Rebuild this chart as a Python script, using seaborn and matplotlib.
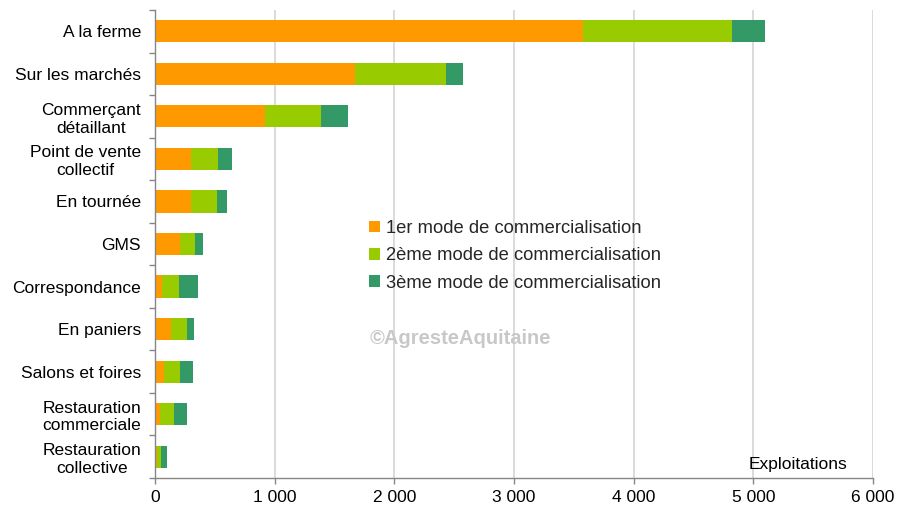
import matplotlib
matplotlib.use("Agg")
import matplotlib.pyplot as plt
from matplotlib.ticker import FuncFormatter, FixedLocator
import numpy as np
import pandas as pd
import seaborn as sns

# Sales channels (top to bottom) and number of farms per rank of channel
categories = [
    "A la ferme",
    "Sur les marchés",
    "Commerçant\ndétaillant",
    "Point de vente\ncollectif",
    "En tournée",
    "GMS",
    "Correspondance",
    "En paniers",
    "Salons et foires",
    "Restauration\ncommerciale",
    "Restauration\ncollective",
]
mode1 = [3580, 1675, 920, 305, 305, 208, 58, 136, 72, 39, 14]
mode2 = [1240, 755, 468, 223, 216, 125, 142, 131, 136, 119, 36]
mode3 = [275, 145, 224, 118, 83, 67, 158, 58, 109, 109, 50]

series_labels = [
    "1er mode de commercialisation",
    "2ème mode de commercialisation",
    "3ème mode de commercialisation",
]
series_colors = ["#FF9900", "#99CC00", "#339966"]
x_ticks = [0, 1000, 2000, 3000, 4000, 5000, 6000]

df = pd.DataFrame({"canal": categories, "m1": mode1, "m2": mode2, "m3": mode3})
df["c1"] = df["m1"]
df["c2"] = df["m1"] + df["m2"]
df["c3"] = df["m1"] + df["m2"] + df["m3"]

sns.set_theme(style="white")
plt.rcParams["font.family"] = ["Liberation Sans", "DejaVu Sans"]

fig = plt.figure(figsize=(9.10, 5.09), dpi=100)
ax = fig.add_axes([155 / 910, 1 - 478 / 509, 718 / 910, 468 / 509])

# Stacked bars: draw cumulative totals from the back to the front
for col, lab, colr in zip(["c3", "c2", "c1"], series_labels[::-1], series_colors[::-1]):
    sns.barplot(data=df, x=col, y="canal", orient="h", color=colr, width=0.52,
                saturation=1, ax=ax, label=lab, zorder=3, linewidth=0)

ax.set_xlim(0, 6000)
ax.set_ylim(len(categories) - 0.5, -0.5)
ax.set_xlabel("")
ax.set_ylabel("")

# Vertical gridlines
ax.xaxis.set_major_locator(FixedLocator(x_ticks))
ax.xaxis.set_major_formatter(FuncFormatter(lambda v, p: f"{int(v):,}".replace(",", " ")))
for xv in x_ticks[1:]:
    ax.axvline(xv, color="#D4D4D4", lw=1.2, zorder=1)

for s in ["top", "right"]:
    ax.spines[s].set_visible(False)
for s in ["left", "bottom"]:
    ax.spines[s].set_color("#868686")
    ax.spines[s].set_linewidth(1.0)
    ax.spines[s].set_zorder(4)

ax.tick_params(axis="x", direction="out", length=4, width=1, color="#868686",
               labelsize=12.5, labelcolor="black", pad=5, bottom=True)
ax.tick_params(axis="y", which="major", length=0, labelsize=12.5,
               labelcolor="black", pad=10)
ax.yaxis.set_minor_locator(FixedLocator(np.arange(-0.5, len(categories), 1.0)))
ax.tick_params(axis="y", which="minor", direction="out", length=4, width=1,
               color="#868686", left=True)
for t in ax.get_yticklabels():
    t.set_multialignment("center")
    t.set_linespacing(1.22)

# Legend in series order
h, l = ax.get_legend_handles_labels()
order = [l.index(s) for s in series_labels]
ax.legend([h[i] for i in order], [l[i] for i in order], loc="upper left",
          bbox_to_anchor=((369 - 155) / 718, (478 - 220) / 468), frameon=False,
          fontsize=13.2, handlelength=0.6, handleheight=0.6, handletextpad=0.35,
          labelspacing=0.56, borderaxespad=0, borderpad=0)

ax.text((460 - 155) / 718, (478 - 339) / 468, "©AgresteAquitaine", transform=ax.transAxes,
        ha="center", va="center", fontsize=14.5, fontweight="bold", color="#C8C8C8", zorder=5)
ax.text((847 - 155) / 718, (478 - 464) / 468, "Exploitations", transform=ax.transAxes,
        ha="right", va="center", fontsize=12.5, color="black")

fig.savefig("out.png", dpi=100, facecolor="white")
